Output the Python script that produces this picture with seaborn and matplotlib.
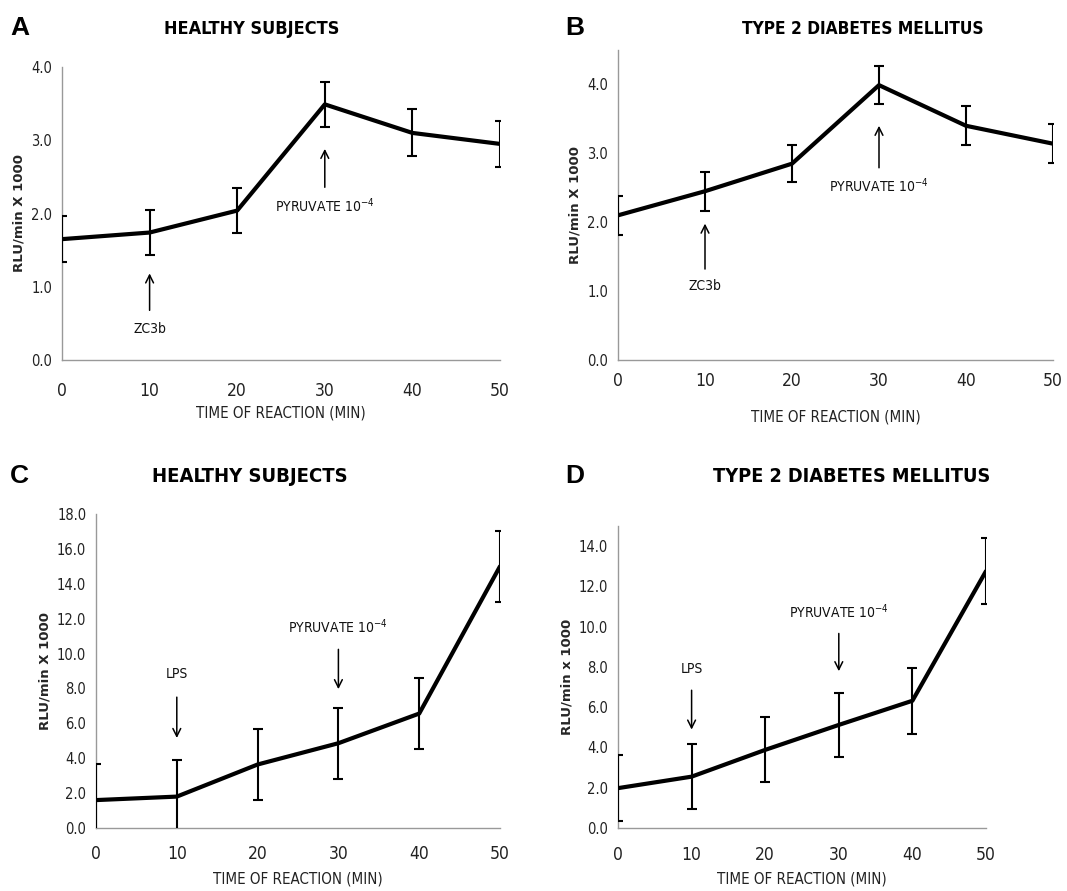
import numpy as np
import pandas as pd
import matplotlib
matplotlib.use("Agg")
import matplotlib.pyplot as plt
import seaborn as sns

# time points (min)
time_min = [0, 10, 20, 30, 40, 50]

# panel A - healthy, ZC3b then pyruvate
a_mean = [1.65, 1.74, 2.04, 3.49, 3.10, 2.95]
a_err = [0.31, 0.31, 0.31, 0.31, 0.32, 0.31]
# panel B - T2DM, ZC3b then pyruvate
b_mean = [2.10, 2.45, 2.85, 3.99, 3.40, 3.14]
b_err = [0.28, 0.28, 0.27, 0.28, 0.28, 0.28]
# panel C - healthy, LPS then pyruvate
c_mean = [1.60, 1.80, 3.64, 4.86, 6.56, 15.0]
c_err = [2.05, 2.10, 2.05, 2.03, 2.03, 2.05]
# panel D - T2DM, LPS then pyruvate
d_mean = [1.98, 2.55, 3.88, 5.12, 6.32, 12.76]
d_err = [1.63, 1.60, 1.61, 1.60, 1.63, 1.62]

sns.set_theme(style="white")
plt.rcParams["font.family"] = ["DejaVu Sans"]
plt.rcParams["font.stretch"] = "condensed"
plt.rcParams["mathtext.default"] = "regular"

W, H = 1067, 891
fig = plt.figure(figsize=(W / 100, H / 100), dpi=100)


def px_axes(left, top, right, bottom):
    return fig.add_axes([left / W, 1 - bottom / H, (right - left) / W, (bottom - top) / H])


def draw_panel(ax, mean, err, ylim, yticks, ylab, tick_pad, label_pad):
    df = pd.DataFrame({"t": time_min, "v": mean})
    ax.errorbar(time_min, mean, yerr=err, fmt="none", ecolor="black",
                elinewidth=1.5, capsize=3.5, capthick=1.5, zorder=2.7)
    sns.lineplot(data=df, x="t", y="v", ax=ax, color="black", linewidth=3, zorder=3)
    ax.set_xlim(0, 50)
    ax.set_ylim(*ylim)
    ax.set_xticks(time_min)
    ax.set_yticks(yticks)
    ax.set_yticklabels([f"{v:.1f}" for v in yticks], fontsize=10.5, color="#222222")
    ax.set_xticklabels([str(t) for t in time_min], fontsize=12.5, color="#222222")
    for s in ["top", "right"]:
        ax.spines[s].set_visible(False)
    for s in ["left", "bottom"]:
        ax.spines[s].set_color("#999999")
        ax.spines[s].set_linewidth(1.0)
    ax.tick_params(axis="x", direction="out", length=4, color="#999999", pad=tick_pad)
    ax.tick_params(axis="y", direction="out", length=4, color="#999999", pad=3)
    ax.set_xlabel("TIME OF REACTION (MIN)", fontsize=10.8, color="#222222",
                  labelpad=label_pad)
    ax.set_ylabel(ylab, fontsize=9.5, fontweight="bold", fontstretch="normal")


def arrow(ax, x, y_from, y_to, label, y_text, fs=10):
    ax.annotate("", xy=(x, y_to), xytext=(x, y_from),
                arrowprops=dict(arrowstyle="->", color="black", lw=1.1,
                                mutation_scale=14))
    ax.text(x, y_text, label, ha="center", va="center", fontsize=fs, color="#111111")


pyr = "PYRUVATE 10$^{-4}$"

# A
axA = px_axes(62, 67, 500, 360)
draw_panel(axA, a_mean, a_err, (0, 4.0), [0, 1, 2, 3, 4], "RLU/min X 1000", 12, 4)
arrow(axA, 10, 0.64, 1.22, "ZC3b", 0.43)
arrow(axA, 30, 2.32, 2.92, pyr, 2.11)

# B
axB = px_axes(618, 50, 1053, 360)
draw_panel(axB, b_mean, b_err, (0, 4.5), [0, 1, 2, 3, 4], "RLU/min X 1000", 5, 14)
arrow(axB, 10, 1.28, 2.02, "ZC3b", 1.07)
arrow(axB, 30, 2.75, 3.44, pyr, 2.53)

# C
axC = px_axes(96, 514, 500, 828)
draw_panel(axC, c_mean, c_err, (0, 18), list(range(0, 19, 2)), "RLU/min X 1000", 8, 6)
arrow(axC, 10, 7.66, 5.0, "LPS", 8.8)
arrow(axC, 30, 10.4, 7.8, pyr, 11.55)

# D
axD = px_axes(618, 526, 986, 828)
draw_panel(axD, d_mean, d_err, (0, 15), list(range(0, 15, 2)), "RLU/min x 1000", 9, 5)
arrow(axD, 10, 6.98, 4.75, "LPS", 7.9)
arrow(axD, 30, 9.8, 7.65, pyr, 10.75)

# titles and panel letters
title_kw = dict(fontweight="bold", ha="center", va="center", color="black")
fig.text(252 / W, 1 - 29 / H, "HEALTHY SUBJECTS", fontsize=13, **title_kw)
fig.text(863 / W, 1 - 29 / H, "TYPE 2 DIABETES MELLITUS", fontsize=12.4, **title_kw)
fig.text(250 / W, 1 - 476 / H, "HEALTHY SUBJECTS", fontsize=14.5, **title_kw)
fig.text(852 / W, 1 - 476 / H, "TYPE 2 DIABETES MELLITUS", fontsize=14.2, **title_kw)

letter_kw = dict(fontweight="bold", ha="left", va="center", color="black",
                 fontsize=19, family=["Liberation Sans", "DejaVu Sans"],
                 fontstretch="normal")
fig.text(10 / W, 1 - 28 / H, "A", **letter_kw)
fig.text(565 / W, 1 - 28 / H, "B", **letter_kw)
fig.text(10 / W, 1 - 476 / H, "C", **letter_kw)
fig.text(565 / W, 1 - 476 / H, "D", **letter_kw)

fig.savefig("out.png", dpi=100, facecolor="white")
